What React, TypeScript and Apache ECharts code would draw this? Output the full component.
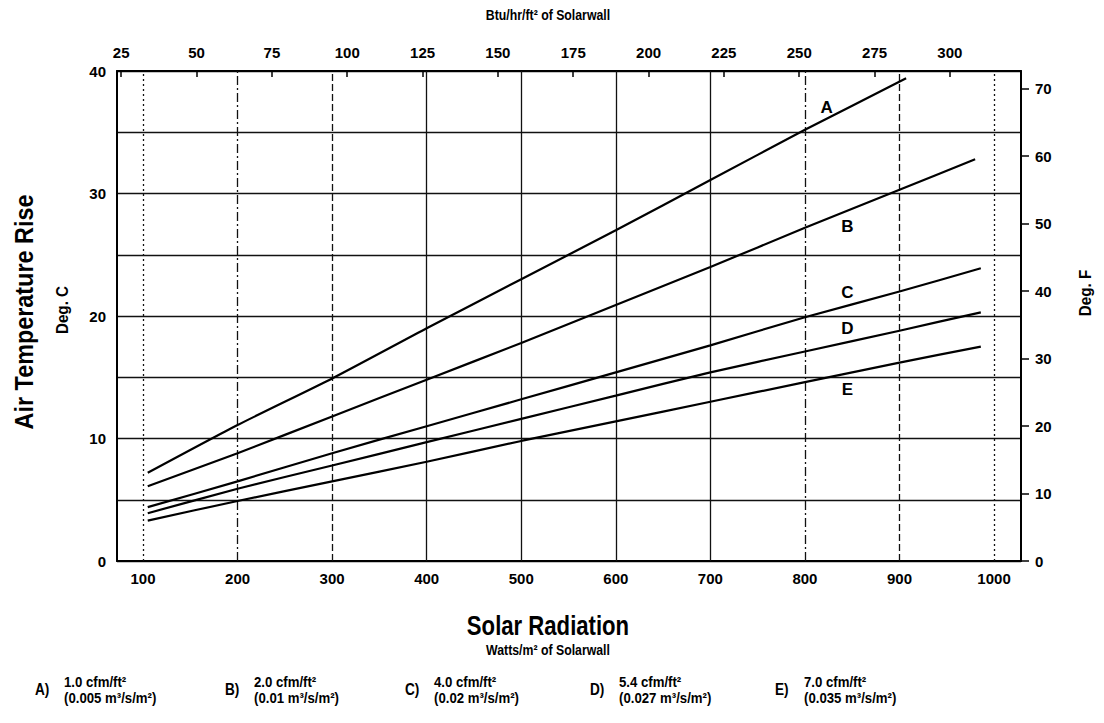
import React, { useEffect, useRef } from "react";
import * as echarts from "echarts";

// Tick labels
const radiationTicks = [100, 200, 300, 400, 500, 600, 700, 800, 900, 1000];
const btuTicks = [25, 50, 75, 100, 125, 150, 175, 200, 225, 250, 275, 300];

// Curves: solar radiation (W/m²) vs air temperature rise (°C)
const radA = [105, 200, 300, 400, 500, 600, 700, 800, 907];
const riseA = [7.2, 11.1, 14.9, 19.0, 23.0, 27.0, 31.1, 35.2, 39.4];
const radB = [105, 200, 300, 400, 500, 600, 700, 800, 900, 980];
const riseB = [6.1, 8.8, 11.8, 14.8, 17.8, 20.9, 24.0, 27.2, 30.3, 32.8];
const radCDE = [105, 200, 300, 400, 500, 600, 700, 800, 900, 986];
const riseC = [4.4, 6.5, 8.8, 11.0, 13.2, 15.4, 17.6, 19.9, 22.0, 23.9];
const riseD = [3.9, 5.9, 7.8, 9.7, 11.6, 13.5, 15.4, 17.1, 18.8, 20.3];
const riseE = [3.3, 4.9, 6.5, 8.1, 9.8, 11.4, 13.0, 14.6, 16.2, 17.5];

const curveNames = ["A", "B", "C", "D", "E"];
const labelRad = [823, 845, 845, 845, 845];
const labelRise = [37.0, 27.3, 21.9, 19.0, 14.0];

const legendFlow = ["1.0 cfm/ft²", "2.0 cfm/ft²", "4.0 cfm/ft²", "5.4 cfm/ft²", "7.0 cfm/ft²"];
const legendMetric = ["(0.005 m³/s/m²)", "(0.01 m³/s/m²)", "(0.02 m³/s/m²)", "(0.027 m³/s/m²)", "(0.035 m³/s/m²)"];

const FONT = "'Liberation Sans', Arial, sans-serif";

const gridStyles: Record<number, number[] | string> = {
  100: [2, 3],
  200: [9, 3, 2, 3],
  300: [7, 3],
  400: "solid",
  500: "solid",
  600: "solid",
  700: "solid",
  800: [9, 3, 2, 3],
  900: [7, 3],
  1000: [2, 3],
};

function zip(xs: number[], ys: number[]) {
  return ys.map((y, i) => [xs[i], y]);
}

function txt(text: string, x: number, y: number, size: number, opts: any = {}) {
  const align = opts.align || "center";
  return {
    type: "text",
    x,
    y,
    rotation: opts.rotation || 0,
    scaleX: opts.scaleX || 0.82,
    style: {
      text,
      fill: "#000",
      font: `bold ${size}px ${FONT}`,
      align,
      verticalAlign: "middle",
      textAlign: align,
      textVerticalAlign: "middle",
    },
  };
}

export default function App() {
  const ref = useRef<HTMLDivElement>(null);
  useEffect(() => {
    if (!ref.current) return;
    const chart = echarts.init(ref.current, undefined, { renderer: "svg" });
    const curves = [
      zip(radA, riseA),
      zip(radB, riseB),
      zip(radCDE, riseC),
      zip(radCDE, riseD),
      zip(radCDE, riseE),
    ];
    const series: any[] = curves.map((data, i) => ({
      type: "line",
      name: curveNames[i],
      xAxisIndex: 0,
      yAxisIndex: 0,
      data,
      smooth: 0.2,
      symbol: "none",
      lineStyle: { color: "#000", width: 2.2 },
      z: 5,
      markPoint: {
        symbol: "circle",
        symbolSize: 0,
        silent: true,
        data: [
          {
            coord: [labelRad[i], labelRise[i]],
            label: {
              show: true,
              formatter: curveNames[i],
              position: "inside",
              color: "#000",
              fontFamily: FONT,
              fontWeight: "bold",
              fontSize: 17,
            },
          },
        ],
      },
    }));
    series[0].markLine = {
      silent: true,
      symbol: ["none", "none"],
      label: { show: false },
      z: 1,
      data: radiationTicks.map((v) => ({
        xAxis: v,
        lineStyle: { color: "#111", width: 1.3, type: gridStyles[v] },
      })),
    };

    const axisLabelBase = {
      color: "#000",
      fontFamily: FONT,
      fontWeight: "bold",
      fontSize: 15,
    };

    chart.setOption({
      animation: false,
      backgroundColor: "#fff",
      grid: { left: 117, top: 71, width: 904, height: 490, containLabel: false },
      xAxis: [
        {
          type: "value",
          position: "bottom",
          min: 72.5,
          max: 1028.5,
          axisLine: { show: true, onZero: false, lineStyle: { color: "#000", width: 2 } },
          axisTick: { show: false },
          splitLine: { show: false },
          axisLabel: {
            ...axisLabelBase,
            margin: 10,
            customValues: radiationTicks,
            formatter: (v: number) => String(v),
          },
        },
        {
          type: "value",
          position: "top",
          min: 23.6,
          max: 323.6,
          axisLine: { show: true, onZero: false, lineStyle: { color: "#000", width: 2 } },
          axisTick: { show: true, inside: true, length: 6, customValues: btuTicks, lineStyle: { color: "#000", width: 1.5 } },
          splitLine: { show: false },
          axisLabel: { ...axisLabelBase, margin: 11, customValues: btuTicks, formatter: (v: number) => String(v) },
        },
      ],
      yAxis: [
        {
          type: "value",
          position: "left",
          min: 0,
          max: 40,
          interval: 5,
          axisLine: { show: true, onZero: false, lineStyle: { color: "#000", width: 2 } },
          axisTick: { show: false },
          splitLine: { show: true, lineStyle: { color: "#111", width: 1.3 } },
          axisLabel: {
            ...axisLabelBase,
            margin: 11,
            formatter: (v: number) => (v % 10 === 0 ? String(v) : ""),
          },
        },
        {
          type: "value",
          position: "right",
          min: 0,
          max: 72.6,
          interval: 10,
          axisLine: { show: true, onZero: false, lineStyle: { color: "#000", width: 2 } },
          axisTick: { show: true, inside: false, length: 8, lineStyle: { color: "#000", width: 1.5 } },
          splitLine: { show: false },
          axisLabel: { ...axisLabelBase, margin: 14, showMaxLabel: false },
        },
      ],
      series,
      graphic: [
        txt("Btu/hr/ft² of Solarwall", 548, 15, 15),
        txt("Air Temperature Rise", 24, 312, 26, { rotation: Math.PI / 2, scaleX: 0.9 }),
        txt("Deg. C", 62, 310, 16, { rotation: Math.PI / 2, scaleX: 0.95 }),
        txt("Deg. F", 1085, 293, 16, { rotation: Math.PI / 2, scaleX: 0.95 }),
        txt("Solar Radiation", 548, 626, 27),
        txt("Watts/m² of Solarwall", 548, 650, 15),
        ...legendFlow.flatMap((flow, i) => {
          const x0 = [35, 225, 405, 590, 775][i];
          return [
            txt(curveNames[i] + ")", x0, 690, 16, { align: "left", scaleX: 0.85 }),
            txt(flow, x0 + 29, 682, 15, { align: "left", scaleX: 0.88 }),
            txt(legendMetric[i], x0 + 29, 698, 15, { align: "left", scaleX: 0.88 }),
          ];
        }),
      ],
    });
    return () => chart.dispose();
  }, []);
  return (
    <div
      ref={ref}
      style={{ position: "absolute", left: 0, top: 0, width: 1104, height: 723, background: "#fff" }}
    />
  );
}
